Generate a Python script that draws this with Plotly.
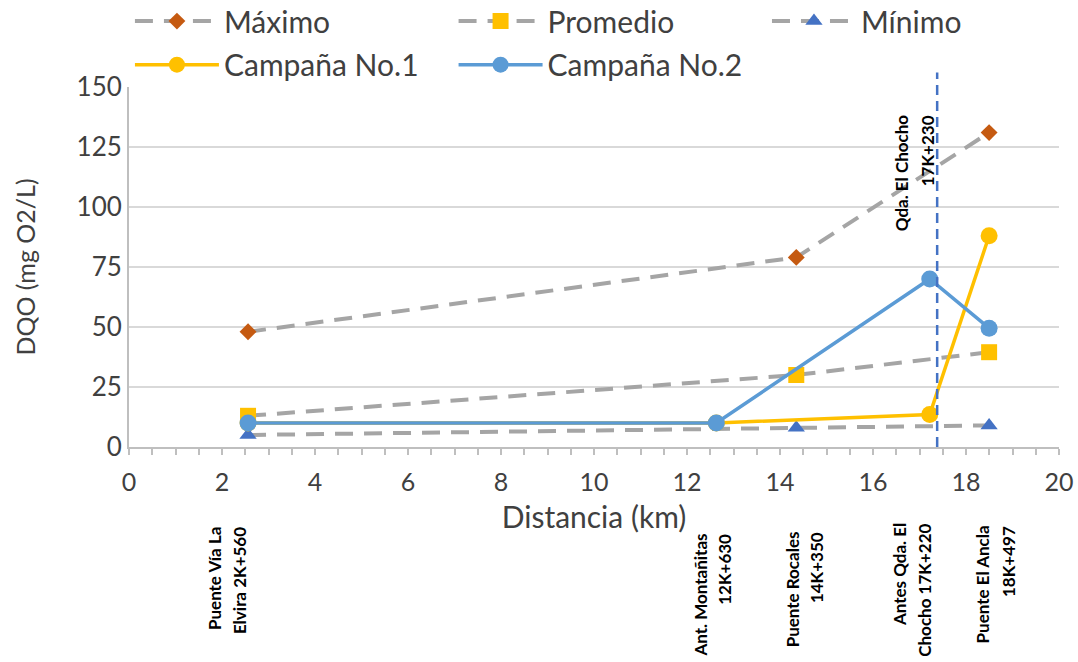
import plotly.graph_objects as go

# Sampling stations along the stream (km)
distancia_km = [2.56, 12.63, 14.35, 17.22, 18.497]

# Station names, two lines each (drawn rotated under the x axis)
estaciones_l1 = ["Puente Vía La", "Ant. Montañitas", "Puente Rocales", "Antes Qda. El", "Puente El Ancla"]
estaciones_l2 = ["Elvira 2K+560", "12K+630", "14K+350", "Chocho 17K+220", "18K+497"]

# DQO (mg O2/L) per station; None where the series has no value
dqo_maximo = [48, None, 79, None, 131]
dqo_promedio = [13, None, 30, None, 39.5]
dqo_minimo = [5, None, 8, None, 9]
dqo_campana1 = [10, 10, None, 13.5, 88]
dqo_campana2 = [10, 10, None, 70, 49.5]

# Tributary position marker
quebrada_km = 17.38
quebrada_l1 = "Qda. El Chocho"
quebrada_l2 = "17K+230"

y_ticks = [0, 25, 50, 75, 100, 125, 150]
x_ticks = list(range(0, 21, 2))

# placement of the rotated station labels: x (km) of each text line, top edge (paper)
l1_x = [1.85, 12.29, 14.27, 16.56, 18.36]
l2_x = [2.39, 12.79, 14.77, 17.09, 18.90]
l_top = [-0.218, -0.235, -0.23, -0.207, -0.213]

GRIS = "#A5A5A5"
FONT = "Lato, Roboto, sans-serif"
TXT = "#404040"

fig = go.Figure()

dash_gris = "18px,11px"
series = [
    ("Máximo", dqo_maximo, dict(color=GRIS, width=4, dash=dash_gris),
     dict(symbol="diamond", size=13, color="#C55A11"), "legend"),
    ("Promedio", dqo_promedio, dict(color=GRIS, width=4, dash=dash_gris),
     dict(symbol="square", size=16, color="#FFC000"), "legend2"),
    ("Mínimo", dqo_minimo, dict(color=GRIS, width=4, dash=dash_gris),
     dict(symbol="triangle-up", size=15, color="#4472C4"), "legend3"),
    ("Campaña No.1", dqo_campana1, dict(color="#FFC000", width=3.5),
     dict(symbol="circle", size=17, color="#FFC000"), "legend4"),
    ("Campaña No.2", dqo_campana2, dict(color="#5B9BD5", width=3.5),
     dict(symbol="circle", size=17, color="#5B9BD5"), "legend5"),
]
for nombre, valores, linea, marcador, leg in series:
    fig.add_trace(go.Scatter(x=distancia_km, y=valores, name=nombre, mode="lines+markers",
                             connectgaps=True, line=linea, marker=marcador, legend=leg))

# vertical dashed line at the tributary
fig.add_shape(type="line", xref="x", yref="paper", x0=quebrada_km, x1=quebrada_km,
              y0=0, y1=1.04, line=dict(color="#4472C4", width=2.5, dash="10px,6px"))


def rotated_label(text, x, y_top, size):
    fig.add_annotation(x=x, y=y_top, xref="x", yref="paper", text=text, textangle=-90,
                       showarrow=False, xanchor="center", yanchor="top",
                       font=dict(family=FONT, size=size, color="black", weight="bold"))


rotated_label(quebrada_l1, 16.60, 0.931, 17)
rotated_label(quebrada_l2, 17.18, 0.928, 17)
for t1, t2, x1, x2, yt in zip(estaciones_l1, estaciones_l2, l1_x, l2_x, l_top):
    rotated_label(t1, x1, yt, 17)
    rotated_label(t2, x2, yt, 17)

# one legend per entry so the two rows line up in fixed columns
legend_pos = {"legend": (0.001, 1.183), "legend2": (0.349, 1.183), "legend3": (0.686, 1.183),
              "legend4": (0.001, 1.062), "legend5": (0.349, 1.062)}
legends = {}
for key, (lx, ly) in legend_pos.items():
    legends[key] = dict(orientation="h", xanchor="left", yanchor="middle", x=lx, y=ly,
                        font=dict(family=FONT, size=30, color=TXT), itemwidth=84,
                        bgcolor="rgba(0,0,0,0)")

fig.update_layout(
    width=1078, height=662,
    margin=dict(l=129, r=19, t=87, b=215, autoexpand=False),
    paper_bgcolor="white", plot_bgcolor="white",
    xaxis=dict(range=[0, 20], tickvals=x_ticks, showgrid=False, zeroline=False,
               showline=True, linecolor="#BFBFBF", linewidth=2,
               ticks="outside", ticklen=6, tickcolor="#BFBFBF", tickwidth=1.5,
               minor=dict(dtick=0.5, ticks="outside", ticklen=6, tickcolor="#BFBFBF", tickwidth=1.5),
               tickfont=dict(family=FONT, size=25, color=TXT), ticklabelstandoff=6,
               title=dict(text="Distancia (km)", font=dict(family=FONT, size=30, color=TXT), standoff=12)),
    yaxis=dict(range=[0, 150], tickvals=y_ticks, showgrid=True, gridcolor="#D9D9D9", gridwidth=2,
               zeroline=False, showline=True, linecolor="#BFBFBF", linewidth=2, ticks="",
               tickfont=dict(family=FONT, size=26, color=TXT),
               title=dict(text="DQO (mg O2/L)", font=dict(family=FONT, size=25, color=TXT), standoff=34)),
    showlegend=True,
    **legends,
)

fig.write_html("out.html")
